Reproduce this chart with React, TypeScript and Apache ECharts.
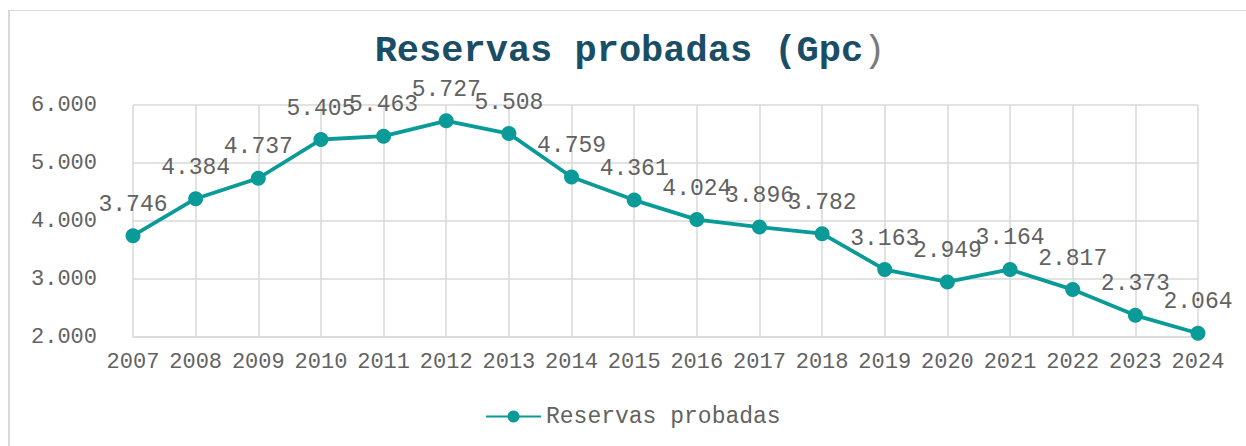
import React, { useEffect, useRef } from "react";
import * as echarts from "echarts";

const years = ["2007","2008","2009","2010","2011","2012","2013","2014","2015","2016","2017","2018","2019","2020","2021","2022","2023","2024"];
const reservas = [3746, 4384, 4737, 5405, 5463, 5727, 5508, 4759, 4361, 4024, 3896, 3782, 3163, 2949, 3164, 2817, 2373, 2064];
const seriesName = "Reservas probadas";
const titleMain = "Reservas probadas (Gpc";
const titleEnd = ")";

const FONT = "'Courier New', 'Liberation Mono', monospace";
const TEAL = "#0a9b98";
const GRAY_TEXT = "#626262";
const GRID = "#d9d9d9";

const fmt = (v: number) => {
  const s = Math.round(v).toString();
  return s.replace(/\B(?=(\d{3})+(?!\d))/g, ".");
};

export default function App() {
  const ref = useRef<HTMLDivElement>(null);
  useEffect(() => {
    if (!ref.current) return;
    const chart = echarts.init(ref.current, null, { renderer: "svg" });
    chart.setOption({
      animation: false,
      backgroundColor: "transparent",
      graphic: [
        {
          type: "text",
          x: 630,
          y: 51,
          style: {
            text: "{a|" + titleMain + "}{b|" + titleEnd + "}",
            align: "center",
            verticalAlign: "middle",
            rich: {
              a: { fontFamily: FONT, fontSize: 37, fontWeight: "bold", fill: "#1a4d66" },
              b: { fontFamily: FONT, fontSize: 37, fontWeight: "normal", fill: "#7a7a7a" },
            },
          },
        },
      ],
      legend: {
        data: [seriesName],
        left: 480,
        top: 400,
        itemWidth: 55,
        itemHeight: 15,
        textStyle: { fontFamily: FONT, fontSize: 23, color: GRAY_TEXT },
      },
      grid: { left: 133, right: 48, top: 105, bottom: 109, containLabel: false },
      xAxis: {
        type: "category",
        data: years,
        boundaryGap: false,
        axisLine: { show: true, lineStyle: { color: GRID, width: 1.5 } },
        axisTick: { show: false },
        axisLabel: { fontFamily: FONT, fontSize: 22, color: GRAY_TEXT, margin: 14, interval: 0, hideOverlap: false },
        splitLine: { show: true, interval: 0, lineStyle: { color: GRID, width: 1.5 } },
      },
      yAxis: {
        type: "value",
        min: 2000,
        max: 6000,
        interval: 1000,
        axisLine: { show: false },
        axisTick: { show: false },
        axisLabel: { fontFamily: FONT, fontSize: 22, color: GRAY_TEXT, margin: 36, formatter: (v: number) => fmt(v) },
        splitLine: { show: true, lineStyle: { color: GRID, width: 1.5 } },
      },
      series: [
        {
          name: seriesName,
          type: "line",
          data: reservas,
          symbol: "circle",
          symbolSize: 15,
          color: TEAL,
          lineStyle: { color: TEAL, width: 3.8 },
          itemStyle: { color: TEAL },
          label: {
            show: true,
            position: "top",
            distance: 12,
            fontFamily: FONT,
            fontSize: 23,
            color: GRAY_TEXT,
            formatter: (p: any) => fmt(p.value),
          },
        },
      ],
    });
    return () => chart.dispose();
  }, []);
  return (
    <div style={{ position: "fixed", left: 0, top: 0, width: 1246, height: 446, background: "#fff", overflow: "hidden" }}>
      <div style={{ position: "absolute", left: 8, top: 10, width: 1300, height: 500, borderLeft: "2px solid #d9d9d9", borderTop: "1.5px solid #d9d9d9", boxSizing: "border-box" }} />
      <div ref={ref} style={{ position: "absolute", left: 0, top: 0, width: 1246, height: 446 }} />
    </div>
  );
}
